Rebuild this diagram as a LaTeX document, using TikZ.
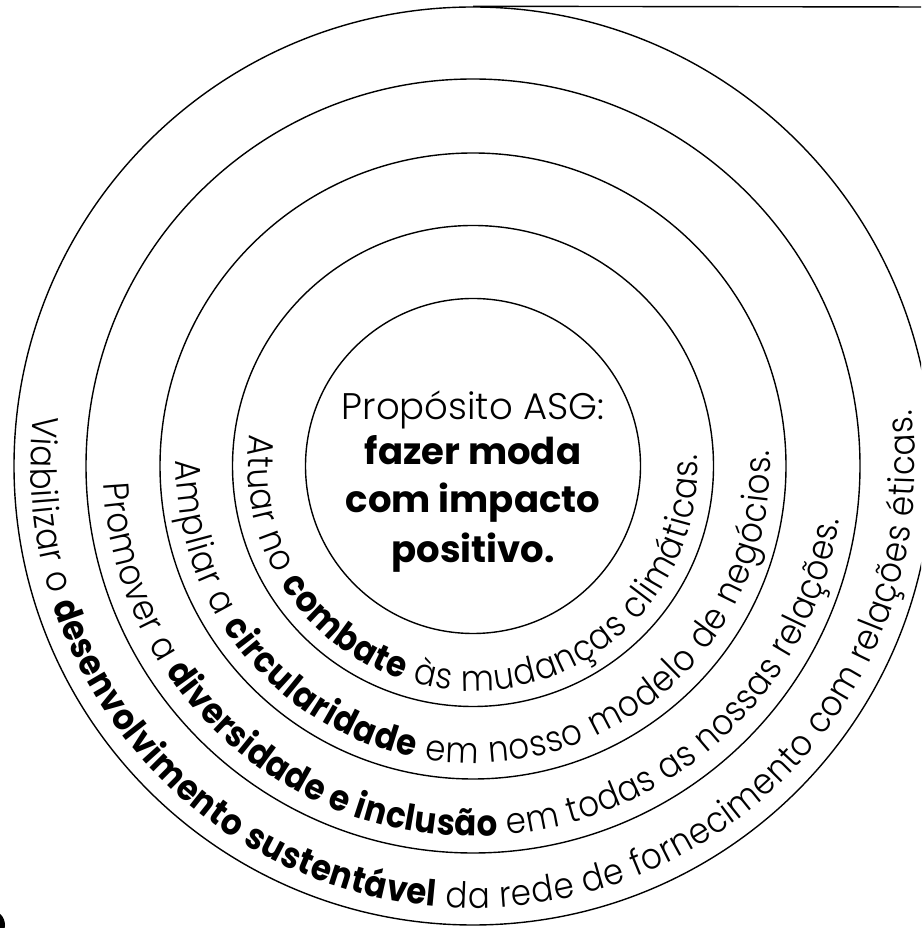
\documentclass[tikz,border=0pt]{standalone}
\usepackage{fontspec}
\setmainfont{Poppins}[UprightFont=* Light, BoldFont=* Bold]
\newfontfamily\bandfam{Poppins}[UprightFont=* Light, BoldFont=* Bold, FakeStretch=0.9]
\usetikzlibrary{decorations.text}
\newcommand\bandfont{\bandfam\fontsize{36}{40}\selectfont}
\begin{document}
\begin{tikzpicture}[x=1pt,y=1pt,
  ring/.style={circle, draw=black, line width=1.4pt, inner sep=0pt, fill=none},
  purposeline/.style={anchor=base, inner sep=0pt, font=\fontsize{37}{44}\selectfont},
  bandtext/.style={decorate, decoration={text along path, text align={fit to path}, text={#1}}}]
\useasboundingbox (0,0) rectangle (921,928);
\clip (0,0) rectangle (921,928);
\coordinate (c) at (473,462);
\node[ring, minimum size=335pt] (r1) at (c) {};
\node[ring, minimum size=481pt] (r2) at (c) {};
\node[ring, minimum size=626pt] (r3) at (c) {};
\node[ring, minimum size=774pt] (r4) at (c) {};
\node[ring, minimum size=918pt] (r5) at (c) {};
\coordinate (tr) at (921,921);
\draw[line width=1.4pt] (r5.north) -- (tr);
\node[purposeline] (p1) at (473,508) {Propósito ASG:};
\node[purposeline, font=\fontsize{37}{44}\selectfont\bfseries] (p2) at (473,463) {fazer moda};
\node[purposeline, font=\fontsize{37}{44}\selectfont\bfseries] (p3) at (473,415) {com impacto};
\node[purposeline, font=\fontsize{37}{44}\selectfont\bfseries] (p4) at (473,365) {positivo.};
\path[bandtext={|\bandfont|Atuar no |\bandfont\bfseries|combate|\bandfont| às mudanças climáticas.}]
  (c) ++(172:225) arc[start angle=172, end angle=363, radius=225];
\path[bandtext={|\bandfont|Ampliar a |\bandfont\bfseries|circularidade|\bandfont| em nosso modelo de negócios.}]
  (c) ++(179:297) arc[start angle=179, end angle=363, radius=297];
\path[bandtext={|\bandfont|Promover a |\bandfont\bfseries|diversidade e inclusão|\bandfont| em todas as nossas relações.}]
  (c) ++(182.7:370) arc[start angle=182.7, end angle=351.6, radius=370];
\path[bandtext={|\bandfont|Viabilizar o |\bandfont\bfseries|desenvolvimento sustentável|\bandfont| da rede de fornecimento com relações éticas.}]
  (c) ++(173.4:442) arc[start angle=173.4, end angle=367.3, radius=442];
\fill (-10,3) circle[radius=15];
\end{tikzpicture}
\end{document}
